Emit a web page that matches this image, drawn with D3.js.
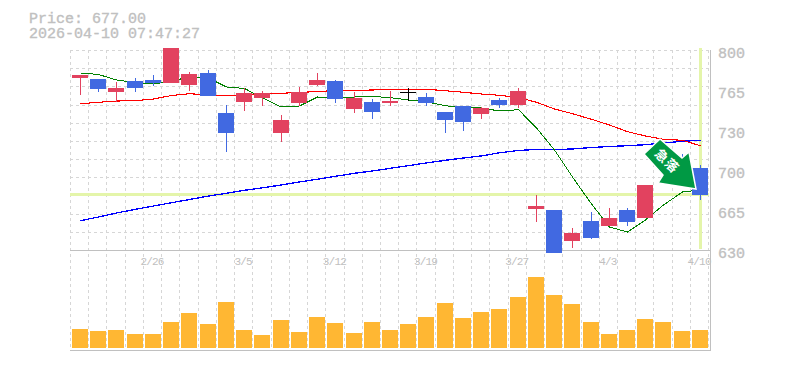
<!DOCTYPE html>
<html>
<head>
<meta charset="utf-8">
<script src="https://cdn.jsdelivr.net/npm/d3@7"></script>
<style>
  html, body { margin: 0; padding: 0; background: #fff; }
  svg { display: block; }
  text { font-family: "Liberation Mono", monospace; fill: #c0c0c0; }
</style>
</head>
<body>
<svg id="chart" width="785" height="370"></svg>
<script>
// Chart data
const dates = ['2/19','2/20','2/24','2/25','2/26','2/27','3/2','3/3','3/4','3/5','3/6','3/9','3/10','3/11','3/12','3/13','3/16','3/17','3/18','3/19','3/23','3/24','3/25','3/26','3/27','3/30','3/31','4/1','4/2','4/3','4/6','4/7','4/8','4/9','4/10'];
const opens = [776.2,775.35,764.3,773.65,774.5,771.95,770.25,780.45,746.45,755.8,759.2,729.45,754.95,770.25,773.65,749.85,755.8,754.95,764.3,760.05,747.3,752.4,745.6,757.5,753.25,664.85,664,637.65,654.65,650.4,664,657.2,703.1,702.25,699.7];
const highs = [778.75,775.35,772.8,776.2,778.75,801.7,781.3,783,753.25,767.7,765.15,744.75,768.55,780.45,774.5,764.3,758.35,765.15,767.7,763.45,747.3,752.4,751.55,759.2,767.7,676.75,664,648.7,662.3,665.7,665.7,685.25,715.85,711.6,702.25];
const lows = [761.75,764.3,755.8,764.3,769.4,771.95,765.15,760.9,713.3,748.15,752.4,721.8,752.4,769.4,754.95,746.45,741.35,752.4,756.65,752.4,729.45,731.15,741.35,750.7,750.7,653.8,627.45,631.7,639.35,650.4,650.4,657.2,701.4,685.25,672.5];
const closes = [778.75,766.85,767.7,767.7,771.95,801.7,779.6,760.9,729.45,763.45,763.45,740.5,764.3,774.5,758.35,759.2,747.3,756.65,764.3,754.95,740.5,738.8,750.7,753.25,765.15,667.4,627.45,644.45,640.2,657.2,653.8,685.25,713.3,689.5,677];
const volumes = [190,170,180,140,140,260,350,240,460,180,130,280,160,310,250,150,260,180,240,310,450,300,360,390,510,710,530,440,260,140,180,290,260,170,180];
const maShort = [780.45,779.2,774.5,772.4,771.1,773.65,777.05,776.2,768.55,767.3,759.2,751.55,752.4,760.05,759.6,760.05,760.5,759.5,757.5,755.8,752.65,750.95,750.7,748.15,749.25,733.7,715,692.05,669.1,649.55,645.3,655.5,668.25,679.3,681];
const maMid = [754.36,755.55,756.65,756.9,758.35,761.33,762.86,761.75,761.5,761.33,763.2,763.2,764.05,764.56,765.75,765.75,766,766.6,766.6,766.6,765.4,764.05,762.6,761.5,759.6,755.55,749.85,745.86,741.1,736.25,730.56,726.9,724.1,723.25,718.6];
const maLong = [654.9,658.05,661.45,664.6,667.4,670.2,672.9,675.9,678.2,680.75,682.9,685.25,687.8,690.2,692.65,695.2,697.15,699.45,701.7,704,706.25,708.2,710,712.6,714.6,715.5,715.4,715.85,717.1,718,718.65,719.5,720.95,722.4,723.25];
const priceTicks = [630,664,698,732,766,800];
const priceLabels = ['630','665','700','730','765','800'];
const dateTicks = ['2/26','3/5','3/12','3/19','3/27','4/3','4/10'];
const currentPrice = 677;
const currentDate = '4/10';

const svg = d3.select('#chart');

const xScale = d3.scaleBand().domain(dates).range([70, 708.2]);
const yScale = d3.scaleLinear().domain([630, 800]).range([250, 50]);
const volScale = d3.scaleLinear().domain([0, 1000]).range([348, 248]);

const barX = d => Math.round(xScale(d) + 2);
const midX = d => barX(d) + 8.5;

// grid
const grid = svg.append('g')
  .attr('stroke', '#d6d6d6')
  .attr('stroke-dasharray', '3,3')
  .attr('shape-rendering', 'crispEdges');
d3.range(12).forEach(i => {
  const y = Math.round(50 + i * 200 / 11) + 0.5;
  grid.append('line').attr('x1', 70).attr('x2', 710).attr('y1', y).attr('y2', y);
});
d3.range(36).forEach(i => {
  const x = Math.round(70 + i * xScale.step()) + 0.5;
  grid.append('line').attr('x1', x).attr('x2', x).attr('y1', 50).attr('y2', 350);
});

// frame
const frame = svg.append('g').attr('stroke', '#c0c0c0').attr('shape-rendering', 'crispEdges');
frame.append('line').attr('x1', 70).attr('x2', 711).attr('y1', 250.5).attr('y2', 250.5);
frame.append('line').attr('x1', 70).attr('x2', 711).attr('y1', 350.5).attr('y2', 350.5);
frame.append('line').attr('x1', 710.5).attr('x2', 710.5).attr('y1', 50).attr('y2', 351);

// current price and date markers
const marks = svg.append('g').attr('stroke', '#e4f5aa').attr('stroke-width', 3).attr('shape-rendering', 'crispEdges');
marks.append('line').attr('x1', 70).attr('x2', 709)
  .attr('y1', yScale(currentPrice)).attr('y2', yScale(currentPrice));
marks.append('line').attr('x1', midX(currentDate)).attr('x2', midX(currentDate)).attr('y1', 48).attr('y2', 249);

// moving averages
const line = d3.line().x((d, i) => midX(dates[i])).y(d => yScale(d));
[[maLong, '#0000ff', 1.3], [maMid, '#ff0000', 1.1], [maShort, '#008000', 1]].forEach(([values, color, w]) => {
  svg.append('path')
    .attr('d', line(values))
    .attr('fill', 'none')
    .attr('stroke', color)
    .attr('stroke-width', w)
    .attr('shape-rendering', 'crispEdges');
});

// candles
const candleColor = (d, i) => {
  if (closes[i] > opens[i]) return '#e2425f';
  if (closes[i] < opens[i]) return '#4169e1';
  return '#000';
};
const candles = svg.append('g').attr('shape-rendering', 'crispEdges');
candles.selectAll('line')
  .data(dates)
  .join('line')
  .attr('x1', d => midX(d))
  .attr('x2', d => midX(d))
  .attr('y1', (d, i) => yScale(highs[i]))
  .attr('y2', (d, i) => yScale(lows[i]))
  .attr('stroke', candleColor)
  .attr('stroke-width', 1);
candles.selectAll('rect')
  .data(dates)
  .join('rect')
  .attr('x', d => barX(d))
  .attr('width', 16)
  .attr('y', (d, i) => yScale(Math.max(opens[i], closes[i])))
  .attr('height', (d, i) => Math.max(1, Math.abs(yScale(opens[i]) - yScale(closes[i]))))
  .attr('fill', candleColor);

// volume
svg.append('g')
  .selectAll('rect')
  .data(dates)
  .join('rect')
  .attr('x', d => barX(d))
  .attr('width', 16)
  .attr('y', (d, i) => volScale(volumes[i]))
  .attr('height', (d, i) => 348 - volScale(volumes[i]))
  .attr('fill', '#ffb733');

// signal arrow
const arrow = svg.append('g');
arrow.append('polygon')
  .attr('points', '660,139 644,154 663,175 658,183 696,189 689,152 682,158')
  .attr('fill', '#009944')
  .attr('stroke', '#fff')
  .attr('stroke-width', 1.5);
arrow.append('text')
  .attr('transform', 'translate(667,161) rotate(45)')
  .attr('text-anchor', 'middle')
  .attr('dy', '0.36em')
  .style('font-family', '"Noto Sans CJK JP"')
  .style('font-size', '13px')
  .style('font-weight', 'bold')
  .style('fill', '#fff')
  .style('letter-spacing', '1px')
  .text('急落');

// axes
const yAxis = d3.axisRight(yScale)
  .tickValues(priceTicks)
  .tickFormat((d, i) => priceLabels[i])
  .tickSize(0)
  .tickPadding(8);
const yG = svg.append('g').attr('transform', 'translate(710,3)').call(yAxis);
yG.select('.domain').remove();
yG.selectAll('text')
  .style('font-size', '15px')
  .style('fill', '#c0c0c0')
  .style('stroke', '#c0c0c0')
  .style('stroke-width', '0.35px');

const xAxis = d3.axisBottom(xScale)
  .tickValues(dateTicks)
  .tickSize(0)
  .tickPadding(7);
const xG = svg.append('g').attr('transform', 'translate(0,250)').call(xAxis);
xG.select('.domain').remove();
xG.selectAll('text')
  .style('font-size', '11px')
  .style('letter-spacing', '-0.8px')
  .style('fill', '#c0c0c0');

// heading
const heading = svg.append('g').style('font-size', '15px').style('stroke', '#c0c0c0').style('stroke-width', '0.35px');
heading.append('text').attr('x', 29).attr('y', 23).text('Price: 677.00');
heading.append('text').attr('x', 29).attr('y', 38).text('2026-04-10 07:47:27');
</script>
</body>
</html>
